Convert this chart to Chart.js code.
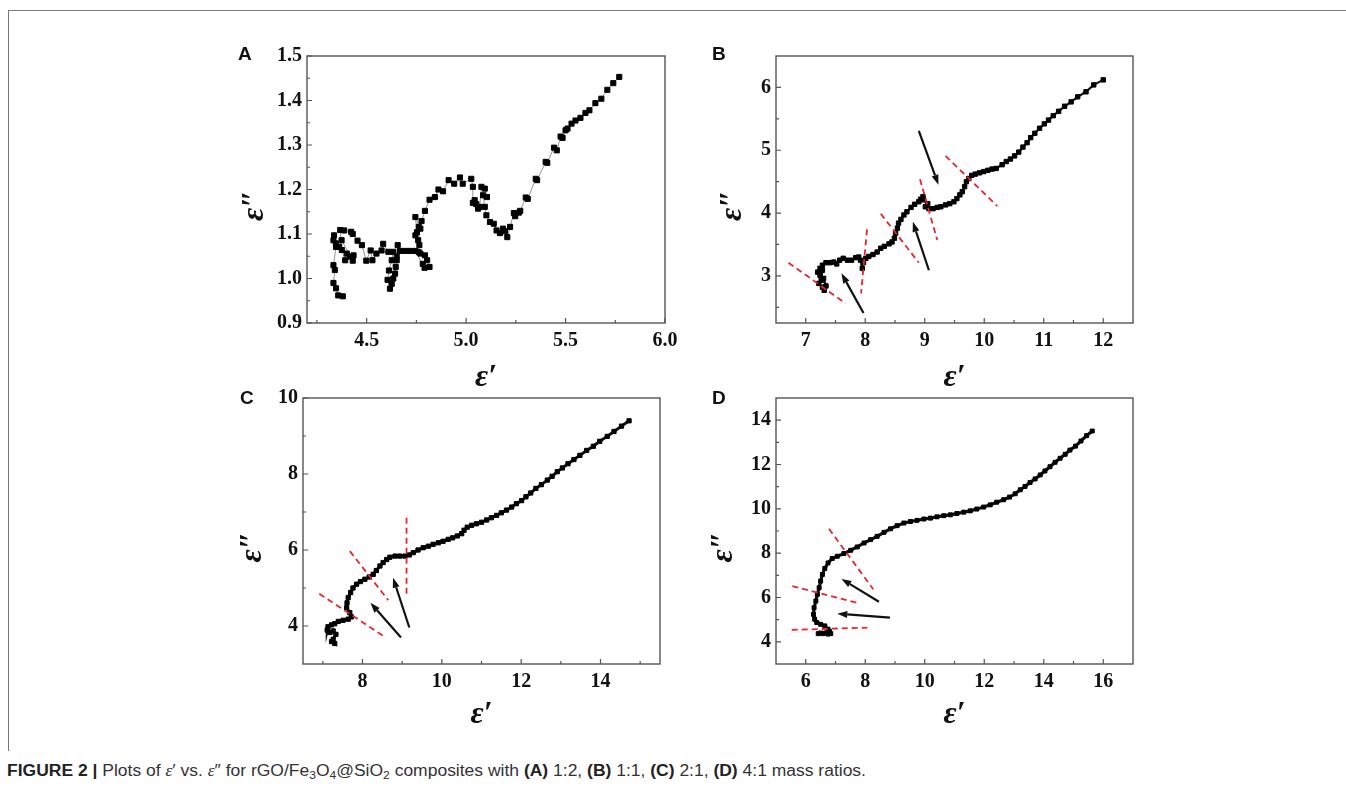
<!DOCTYPE html>
<html>
<head>
<meta charset="utf-8">
<script src="https://cdn.jsdelivr.net/npm/chart.js@4.4.0/dist/chart.umd.min.js"></script>
<style>
  body { margin: 0; background: #fff; width: 1346px; height: 791px; overflow: hidden; position: relative; }
  .frame { position: absolute; left: 8px; top: 10px; width: 1340px; height: 740px; border-left: 1px solid #777; border-top: 1px solid #777; }
  .panel { position: absolute; width: 460px; height: 360px; }
  .letter { position: absolute; font: bold 19px "Liberation Sans", Arial, sans-serif; color: #111; line-height: 19px; }
  .caption { position: absolute; left: 7px; top: 763px; font: 16px/16px "Liberation Sans Narrow", "Liberation Sans", Arial, sans-serif; color: #333; white-space: nowrap; }
  .caption span { display: inline-block; transform-origin: 0 50%; }
  .caption b { color: #222; }
  .caption i { font-family: "Liberation Serif", serif; }
  sub { font-size: 11px; vertical-align: -3px; line-height: 0; }
</style>
</head>
<body>
<div class="frame"></div>

<div class="panel" style="left:220px;top:40px"><canvas id="chartA" width="460" height="360"></canvas></div>
<div class="panel" style="left:690px;top:40px"><canvas id="chartB" width="460" height="360"></canvas></div>
<div class="panel" style="left:220px;top:385px"><canvas id="chartC" width="460" height="360"></canvas></div>
<div class="panel" style="left:690px;top:385px"><canvas id="chartD" width="460" height="360"></canvas></div>

<div class="letter" style="left:238px;top:44px">A</div>
<div class="letter" style="left:712px;top:44px">B</div>
<div class="letter" style="left:240px;top:388px">C</div>
<div class="letter" style="left:712px;top:388px">D</div>

<div class="caption"><span id="cap"><b>FIGURE 2 |</b> Plots of <i>ε</i>′ vs. <i>ε</i>″ for rGO/Fe<sub>3</sub>O<sub>4</sub>@SiO<sub>2</sub> composites with <b>(A)</b> 1:2, <b>(B)</b> 1:1, <b>(C)</b> 2:1, <b>(D)</b> 4:1 mass ratios.</span></div>

<script>
// ---- (A) 1:2 ----
const epsRealA = [5.77, 5.74, 5.71, 5.68, 5.65, 5.62, 5.60, 5.575, 5.55, 5.53, 5.51, 5.50, 5.485, 5.475, 5.456, 5.442,
  5.408, 5.40, 5.357, 5.35, 5.31, 5.30, 5.272, 5.265, 5.247, 5.24, 5.221, 5.207, 5.196, 5.185, 5.17, 5.153, 5.139,
  5.12, 5.102, 5.094, 5.085, 5.105, 5.094, 5.077, 5.068, 5.06, 5.051, 5.043, 5.034, 5.034, 5.026, 4.983, 4.969,
  4.94, 4.912, 4.884, 4.861, 4.843, 4.816, 4.793, 4.776, 4.762, 4.753, 4.745, 4.77, 4.759, 4.745, 4.765, 4.762,
  4.77, 4.793, 4.804, 4.782, 4.816, 4.791, 4.745, 4.719, 4.694, 4.668, 4.656, 4.651, 4.651, 4.646, 4.643, 4.634,
  4.626, 4.617, 4.605, 4.612, 4.626, 4.634, 4.609, 4.583, 4.575, 4.549, 4.529, 4.52, 4.498, 4.476, 4.454, 4.43,
  4.422, 4.387, 4.367, 4.375, 4.392, 4.40, 4.417, 4.434, 4.43, 4.374, 4.362, 4.345, 4.336, 4.333, 4.346, 4.333,
  4.34, 4.333, 4.346, 4.357, 4.38];
const epsImagA = [1.453, 1.439, 1.424, 1.404, 1.394, 1.378, 1.372, 1.361, 1.355, 1.348, 1.337, 1.333, 1.316, 1.319, 1.288, 1.294,
  1.260, 1.262, 1.221, 1.224, 1.179, 1.182, 1.152, 1.148, 1.140, 1.147, 1.116, 1.093, 1.106, 1.112, 1.102, 1.108, 1.123,
  1.127, 1.142, 1.161, 1.187, 1.183, 1.202, 1.206, 1.161, 1.157, 1.167, 1.176, 1.170, 1.206, 1.224, 1.213, 1.227,
  1.213, 1.221, 1.196, 1.200, 1.183, 1.177, 1.152, 1.129, 1.116, 1.104, 1.138, 1.112, 1.086, 1.097, 1.075, 1.059,
  1.056, 1.052, 1.041, 1.033, 1.026, 1.024, 1.062, 1.062, 1.062, 1.062, 1.075, 1.050, 1.041, 1.026, 1.011, 1.000,
  0.988, 0.977, 0.997, 1.018, 1.041, 1.060, 1.060, 1.078, 1.063, 1.056, 1.041, 1.063, 1.040, 1.075, 1.085, 1.100,
  1.105, 1.108, 1.109, 1.064, 1.041, 1.056, 1.049, 1.052, 1.040, 1.086, 1.071, 1.079, 1.097, 1.086, 1.071, 1.030,
  1.019, 0.990, 0.978, 0.962, 0.960];
const xRangeA = [4.2, 6.0];
const yRangeA = [0.9, 1.5];
const xMajorA = [4.5, 5.0, 5.5, 6.0];
const xMinorA = [4.25, 4.75, 5.25, 5.75];
const yMajorA = [0.9, 1.0, 1.1, 1.2, 1.3, 1.4, 1.5];
const yMinorA = [0.95, 1.05, 1.15, 1.25, 1.35, 1.45];

// ---- (B) 1:1 ----
const epsRealB = [12.00, 11.84, 11.71, 11.57, 11.46, 11.35, 11.25, 11.16, 11.08, 11.01, 10.93, 10.85, 10.78, 10.72, 10.65,
  10.58, 10.51, 10.44, 10.37, 10.30, 10.20, 10.13, 10.06, 9.99, 9.92, 9.85, 9.79, 9.74, 9.70, 9.67, 9.63, 9.59, 9.54,
  9.49, 9.42, 9.35, 9.27, 9.21, 9.14, 9.07, 9.01, 9.05, 8.98, 8.93, 8.97, 8.90, 8.83, 8.77, 8.70, 8.65, 8.60, 8.56,
  8.54, 8.51, 8.49, 8.45, 8.40, 8.32, 8.26, 8.20, 8.13, 8.06, 8.01, 7.97, 7.95, 7.92, 7.89, 7.84, 7.77, 7.70, 7.63,
  7.57, 7.52, 7.47, 7.41, 7.34, 7.28, 7.24, 7.20, 7.24, 7.28, 7.26, 7.22, 7.28, 7.31, 7.34, 7.30];
const epsImagB = [6.12, 6.04, 5.93, 5.85, 5.77, 5.70, 5.62, 5.55, 5.48, 5.42, 5.35, 5.27, 5.20, 5.12, 5.05,
  4.97, 4.91, 4.86, 4.82, 4.77, 4.71, 4.70, 4.68, 4.66, 4.64, 4.62, 4.60, 4.55, 4.50, 4.42, 4.34, 4.29, 4.23,
  4.18, 4.15, 4.13, 4.10, 4.09, 4.07, 4.07, 4.10, 4.15, 4.21, 4.22, 4.26, 4.18, 4.14, 4.09, 4.02, 3.97, 3.90, 3.84,
  3.76, 3.68, 3.60, 3.54, 3.51, 3.47, 3.44, 3.38, 3.34, 3.31, 3.28, 3.21, 3.12, 3.25, 3.30, 3.29, 3.25, 3.25, 3.28,
  3.25, 3.19, 3.22, 3.21, 3.21, 3.17, 3.12, 3.06, 3.01, 3.09, 2.93, 2.88, 2.82, 2.77, 2.84, 2.96];
const xRangeB = [6.5, 12.5];
const yRangeB = [2.25, 6.5];
const xMajorB = [7, 8, 9, 10, 11, 12];
const xMinorB = [7.5, 8.5, 9.5, 10.5, 11.5];
const yMajorB = [3, 4, 5, 6];
const yMinorB = [2.5, 3.5, 4.5, 5.5];
// dashed guide lines [x1, y1, x2, y2] and arrows [tailX, tailY, headX, headY]
const redB = [[6.71, 3.21, 7.67, 2.56], [8.03, 3.74, 7.93, 2.72], [8.26, 3.99, 8.90, 3.21], [8.92, 4.54, 9.21, 3.57], [9.35, 4.91, 10.22, 4.11]];
const arrowsB = [[7.97, 2.41, 7.60, 3.04], [9.07, 3.09, 8.80, 3.86], [8.90, 5.31, 9.23, 4.45]];

// ---- (C) 2:1 ----
const epsRealC = [14.72, 14.53, 14.34, 14.17, 13.98, 13.82, 13.65, 13.48, 13.33, 13.18, 13.04, 12.91, 12.78, 12.66, 12.51,
  12.37, 12.24, 12.12, 12.01, 11.88, 11.76, 11.63, 11.50, 11.38, 11.25, 11.13, 11.00, 10.87, 10.75, 10.64, 10.56, 10.50,
  10.39, 10.27, 10.16, 10.03, 9.91, 9.78, 9.66, 9.53, 9.40, 9.28, 9.18, 9.07, 8.94, 8.82, 8.69, 8.61, 8.52, 8.44, 8.35,
  8.27, 8.17, 8.06, 7.95, 7.85, 7.76, 7.70, 7.64, 7.61, 7.60, 7.68, 7.72, 7.64, 7.51, 7.39, 7.30, 7.22, 7.13, 7.11,
  7.18, 7.26, 7.33, 7.26, 7.30, 7.22];
const epsImagC = [9.40, 9.26, 9.12, 8.99, 8.86, 8.73, 8.62, 8.49, 8.38, 8.27, 8.16, 8.06, 7.94, 7.84, 7.72,
  7.62, 7.50, 7.40, 7.30, 7.22, 7.13, 7.05, 6.98, 6.91, 6.85, 6.79, 6.73, 6.69, 6.65, 6.60, 6.52, 6.43,
  6.37, 6.32, 6.28, 6.23, 6.19, 6.15, 6.10, 6.06, 6.00, 5.93, 5.87, 5.84, 5.84, 5.84, 5.81, 5.75, 5.67, 5.58, 5.46,
  5.36, 5.29, 5.23, 5.17, 5.10, 5.00, 4.88, 4.75, 4.61, 4.48, 4.35, 4.24, 4.18, 4.15, 4.12, 4.06, 4.03, 3.98, 3.89,
  3.83, 3.87, 3.78, 3.65, 3.54, 3.59];
const xRangeC = [6.5, 15.5];
const yRangeC = [3, 10];
const xMajorC = [8, 10, 12, 14];
const xMinorC = [7, 9, 11, 13, 15];
const yMajorC = [4, 6, 8, 10];
const yMinorC = [5, 7, 9];
const redC = [[6.91, 4.85, 8.52, 3.74], [7.68, 5.97, 8.65, 4.68], [9.11, 6.85, 9.11, 4.82]];
const arrowsC = [[8.97, 3.70, 8.20, 4.61], [9.18, 3.96, 8.77, 5.27]];

// ---- (D) 4:1 ----
const epsRealD = [15.63, 15.44, 15.25, 15.07, 14.88, 14.72, 14.55, 14.38, 14.21, 14.04, 13.88, 13.71, 13.54, 13.37, 13.21,
  13.04, 12.85, 12.65, 12.42, 12.20, 11.98, 11.75, 11.53, 11.31, 11.08, 10.86, 10.64, 10.41, 10.19, 9.97, 9.74, 9.52,
  9.30, 9.07, 8.85, 8.63, 8.40, 8.18, 7.96, 7.73, 7.51, 7.28, 7.06, 6.89, 6.75, 6.64, 6.56, 6.50, 6.45, 6.39, 6.34,
  6.28, 6.26, 6.30, 6.37, 6.50, 6.64, 6.75, 6.80, 6.84, 6.75, 6.67, 6.58, 6.50, 6.42];
const epsImagD = [13.51, 13.30, 13.06, 12.83, 12.65, 12.46, 12.28, 12.10, 11.90, 11.71, 11.53, 11.35, 11.19, 11.01, 10.86,
  10.68, 10.53, 10.41, 10.30, 10.18, 10.08, 9.99, 9.91, 9.85, 9.79, 9.73, 9.69, 9.64, 9.58, 9.54, 9.48, 9.43,
  9.36, 9.24, 9.10, 8.94, 8.76, 8.61, 8.46, 8.28, 8.13, 7.98, 7.86, 7.76, 7.56, 7.31, 7.04, 6.74, 6.44, 6.14, 5.84,
  5.54, 5.24, 5.02, 4.87, 4.79, 4.72, 4.57, 4.47, 4.37, 4.35, 4.40, 4.37, 4.40, 4.37];
const xRangeD = [5, 17];
const yRangeD = [3, 15];
const xMajorD = [6, 8, 10, 12, 14, 16];
const xMinorD = [7, 9, 11, 13, 15];
const yMajorD = [4, 6, 8, 10, 12, 14];
const yMinorD = [5, 7, 9, 11, 13];
const redD = [[6.78, 9.10, 8.27, 6.37], [5.55, 6.51, 7.79, 5.74], [5.53, 4.54, 8.07, 4.64]];
const arrowsD = [[8.46, 5.81, 7.20, 6.84], [8.83, 5.09, 7.06, 5.27]];

function tickList(major, minor) {
  return major.concat(minor).sort((a, b) => a - b).map(v => ({value: v}));
}
function inList(list, v) {
  return list.some(m => Math.abs(m - v) < 1e-9);
}

// frame box, inward ticks and arrows
const framePlugin = {
  id: 'frame',
  afterDatasetsDraw(chart, args, opts) {
    const {ctx, scales: {x, y}} = chart;
    ctx.save();
    ctx.strokeStyle = '#111';
    ctx.fillStyle = '#111';
    ctx.lineWidth = 2.2;
    (opts.arrows || []).forEach(([x0, y0, x1, y1]) => {
      const px0 = x.getPixelForValue(x0), py0 = y.getPixelForValue(y0);
      const px1 = x.getPixelForValue(x1), py1 = y.getPixelForValue(y1);
      const ang = Math.atan2(py1 - py0, px1 - px0);
      const hl = 10, hw = 3.5;
      const bx = px1 - hl * Math.cos(ang), by = py1 - hl * Math.sin(ang);
      ctx.beginPath();
      ctx.moveTo(px0, py0);
      ctx.lineTo(bx, by);
      ctx.stroke();
      ctx.beginPath();
      ctx.moveTo(px1, py1);
      ctx.lineTo(bx + hw * Math.sin(ang), by - hw * Math.cos(ang));
      ctx.lineTo(bx - hw * Math.sin(ang), by + hw * Math.cos(ang));
      ctx.closePath();
      ctx.fill();
    });
    ctx.restore();
  },
  afterDraw(chart) {
    const {ctx, chartArea: a, scales: {x, y}} = chart;
    ctx.save();
    ctx.strokeStyle = '#555';
    ctx.lineWidth = 1.4;
    ctx.strokeRect(a.left, a.top, a.right - a.left, a.bottom - a.top);
    ctx.lineWidth = 1.2;
    ctx.beginPath();
    x.ticks.forEach(t => {
      const p = x.getPixelForValue(t.value);
      ctx.moveTo(p, a.bottom);
      ctx.lineTo(p, a.bottom - (t.label ? 5 : 3));
    });
    y.ticks.forEach(t => {
      const p = y.getPixelForValue(t.value);
      ctx.moveTo(a.left, p);
      ctx.lineTo(a.left + (t.label ? 5 : 3), p);
    });
    ctx.stroke();
    ctx.restore();
  }
};

const tickFont = {family: '"Liberation Serif", "Times New Roman", serif', weight: 'bold', size: 20};
const titleFont = {family: '"Liberation Serif", "Times New Roman", serif', weight: 'bold', style: 'italic', size: 32, lineHeight: 1};

function makePanel(id, p) {
  const datasets = [{
    data: p.xs.map((v, i) => ({x: v, y: p.ys[i]})),
    showLine: true,
    borderColor: p.lineColor,
    borderWidth: p.lineWidth,
    pointStyle: 'rect',
    pointRadius: p.r,
    pointBorderWidth: 1,
    pointBackgroundColor: '#000',
    pointBorderColor: '#000',
    order: 2
  }];
  (p.red || []).forEach(s => datasets.push({
    data: [{x: s[0], y: s[1]}, {x: s[2], y: s[3]}],
    showLine: true,
    borderColor: '#e8262b',
    borderWidth: 1.8,
    borderDash: [6, 4],
    pointRadius: 0,
    order: 1
  }));

  new Chart(document.getElementById(id), {
    type: 'scatter',
    data: {datasets},
    plugins: [framePlugin],
    options: {
      responsive: false,
      animation: false,
      events: [],
      layout: {padding: {top: p.padTop, right: p.padRight, left: 0, bottom: 0}},
      plugins: {
        legend: {display: false},
        tooltip: {enabled: false},
        frame: {arrows: p.arrows || []}
      },
      scales: {
        x: {
          type: 'linear',
          min: p.xRange[0],
          max: p.xRange[1],
          afterBuildTicks: s => { s.ticks = tickList(p.xMajor, p.xMinor); },
          afterFit: s => { s.height = p.xH; s.paddingLeft = 0; s.paddingRight = 0; },
          grid: {display: false, drawTicks: false},
          border: {display: false},
          ticks: {
            autoSkip: false, maxRotation: 0, padding: 6, color: '#111', font: tickFont,
            callback: v => inList(p.xMajor, v) ? p.fmt(v) : ''
          },
          title: {display: true, text: 'ε′', color: '#111', font: titleFont, padding: {top: 0, bottom: p.xTitlePad}}
        },
        y: {
          type: 'linear',
          min: p.yRange[0],
          max: p.yRange[1],
          afterBuildTicks: s => { s.ticks = tickList(p.yMajor, p.yMinor); },
          afterFit: s => { s.width = p.yW; s.paddingTop = 0; s.paddingBottom = 0; },
          grid: {display: false, drawTicks: false},
          border: {display: false},
          ticks: {
            autoSkip: false, padding: 5, color: '#111', font: tickFont,
            callback: v => inList(p.yMajor, v) ? p.fmt(v) : ''
          },
          title: {display: true, text: 'ε″\u2003', color: '#111', font: titleFont, padding: {top: p.yTitlePad, bottom: 0}}
        }
      }
    }
  });
}

const oneDecimal = v => v.toFixed(1);
const integer = v => String(Math.round(v));

makePanel('chartA', {
  xs: epsRealA, ys: epsImagA, xRange: xRangeA, yRange: yRangeA,
  xMajor: xMajorA, xMinor: xMinorA, yMajor: yMajorA, yMinor: yMinorA, fmt: oneDecimal,
  r: 3.6, lineColor: 'rgba(90,90,90,0.8)', lineWidth: 0.8,
  padTop: 16, padRight: 15, yW: 87, xH: 77, xTitlePad: 6, yTitlePad: 19
});
makePanel('chartB', {
  xs: epsRealB, ys: epsImagB, xRange: xRangeB, yRange: yRangeB,
  xMajor: xMajorB, xMinor: xMinorB, yMajor: yMajorB, yMinor: yMinorB, fmt: integer,
  r: 3.1, lineColor: '#111', lineWidth: 2.2, red: redB, arrows: arrowsB,
  padTop: 16, padRight: 17, yW: 86, xH: 77, xTitlePad: 6, yTitlePad: 27
});
makePanel('chartC', {
  xs: epsRealC, ys: epsImagC, xRange: xRangeC, yRange: yRangeC,
  xMajor: xMajorC, xMinor: xMinorC, yMajor: yMajorC, yMinor: yMinorC, fmt: integer,
  r: 3.0, lineColor: '#111', lineWidth: 3, red: redC, arrows: arrowsC,
  padTop: 13, padRight: 20, yW: 83, xH: 81, xTitlePad: 14, yTitlePad: 17
});
makePanel('chartD', {
  xs: epsRealD, ys: epsImagD, xRange: xRangeD, yRange: yRangeD,
  xMajor: xMajorD, xMinor: xMinorD, yMajor: yMajorD, yMinor: yMinorD, fmt: integer,
  r: 2.8, lineColor: '#111', lineWidth: 3.2, red: redD, arrows: arrowsD,
  padTop: 13, padRight: 17, yW: 86, xH: 81, xTitlePad: 14, yTitlePad: 18
});

// stretch the caption line to the width it has in the figure
const cap = document.getElementById('cap');
const capW = cap.getBoundingClientRect().width;
cap.style.transform = 'scaleX(' + (859 / capW).toFixed(4) + ')';
</script>
</body>
</html>
